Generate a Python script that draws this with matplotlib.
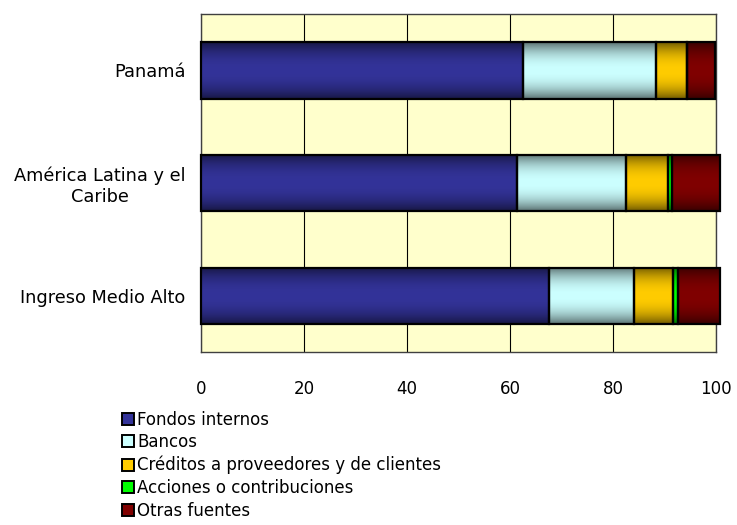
import numpy as np
import matplotlib
matplotlib.use("Agg")
import matplotlib.pyplot as plt
from matplotlib.patches import Patch
from matplotlib.colors import to_rgb

# Origen del financiamiento de la inversión (% del total)
regiones = ["Panamá", "América Latina y el\nCaribe", "Ingreso Medio Alto"]
fuentes = ["Fondos internos", "Bancos", "Créditos a proveedores y de clientes",
           "Acciones o contribuciones", "Otras fuentes"]
fondos_internos = [62.6, 61.4, 67.6]
bancos = [25.8, 21.1, 16.4]
creditos = [5.9, 8.1, 7.7]
acciones = [0.0, 0.9, 1.0]
otras = [5.6, 9.2, 8.1]

colores = ["#333399", "#CCFFFF", "#FFCC00", "#00FF00", "#800000"]
ticks_x = [0, 20, 40, 60, 80, 100]

plt.rcParams["font.family"] = ["DejaVu Sans"]

fig = plt.figure(figsize=(7.37, 5.25), dpi=100)
ax = fig.add_axes([0.2727, 0.3295, 0.6988, 0.6438])
ax.set_facecolor("#FFFFCC")

series = [fondos_internos, bancos, creditos, acciones, otras]
y = np.arange(len(regiones))[::-1]
alto = 0.5

# sombreado vertical: oscuro en los bordes, claro al centro
t = np.linspace(0, 1, 64)
factor = 1 - 0.55 * np.abs(2 * t - 1) ** 2.2

izquierda = np.zeros(len(regiones))
for valores, color in zip(series, colores):
    valores = np.array(valores)
    barras = ax.barh(y, valores, height=alto, left=izquierda,
                     facecolor="none", edgecolor="black", linewidth=1.6,
                     zorder=4, clip_on=False)
    rgb = np.array(to_rgb(color))
    img = (factor[:, None] * rgb[None, :])[:, None, :]
    for b in barras:
        if b.get_width() <= 0:
            continue
        x0, y0 = b.get_x(), b.get_y()
        ax.imshow(img, extent=[x0, x0 + b.get_width(), y0, y0 + b.get_height()],
                  aspect="auto", interpolation="bilinear", zorder=3, clip_on=False)
    izquierda = izquierda + valores

ax.set_xlim(0, 100)
ax.set_ylim(-0.5, 2.5)
ax.set_xticks(ticks_x)
ax.set_xticklabels([str(v) for v in ticks_x], fontsize=12)
ax.set_yticks(y)
ax.set_yticklabels(regiones, fontsize=12.8, multialignment="center")
ax.tick_params(axis="x", length=0, pad=20)
ax.tick_params(axis="y", length=0, pad=11)
ax.xaxis.grid(True, color="black", linewidth=0.8, zorder=1)
ax.set_axisbelow(True)
for s in ax.spines.values():
    s.set_color("#404040")
    s.set_linewidth(1.0)

handles = [Patch(facecolor=c, edgecolor="black", linewidth=1.4) for c in colores]
fig.legend(handles, fuentes, loc="upper left", bbox_to_anchor=(0.165, 0.218),
           frameon=False, fontsize=12, handlelength=0.72, handleheight=0.72,
           handletextpad=0.22, labelspacing=0.28, borderpad=0, borderaxespad=0)

fig.savefig("out.png", dpi=100)
